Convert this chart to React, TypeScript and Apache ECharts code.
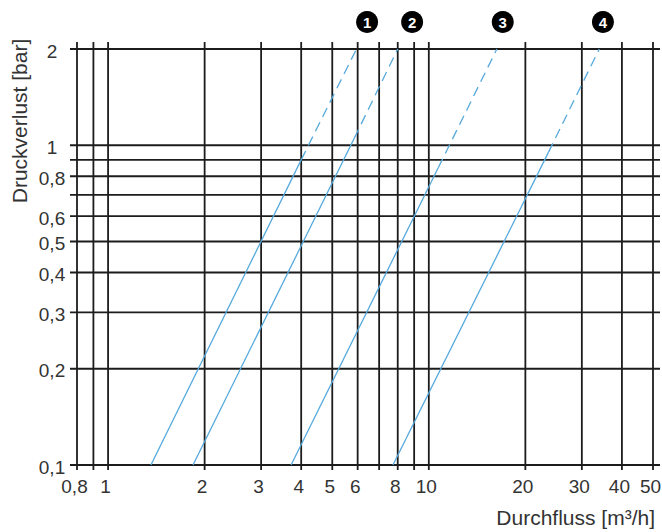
import React, { useEffect, useRef } from "react";
import * as echarts from "echarts";

// Axis ranges (log-log chart)
const X_MIN = 0.8;
const X_MAX = 50;
const Y_MIN = 0.1;
const Y_MAX = 2;

// Gridlines and their labels
const X_GRID = [0.8, 0.9, 1, 2, 3, 4, 5, 6, 7, 8, 9, 10, 20, 30, 40, 50];
const X_LABELS = ["0,8", "", "1", "2", "3", "4", "5", "6", "", "8", "", "10", "20", "30", "40", "50"];
const Y_GRID = [0.1, 0.2, 0.3, 0.4, 0.5, 0.6, 0.7, 0.8, 0.9, 1, 2];
const Y_LABELS = ["0,1", "0,2", "0,3", "0,4", "0,5", "0,6", "", "0,8", "", "1", "2"];

// Curves: solid part and dashed continuation [flow m³/h, pressure bar]
const CURVE_IDS = ["1", "2", "3", "4"];
const CURVE_SOLID = [
  [[1.36, 0.1], [4.0, 0.9]],
  [[1.84, 0.1], [5.85, 1.05]],
  [[3.72, 0.1], [10.7, 0.85]],
  [[7.73, 0.1], [23.6, 0.95]],
];
const CURVE_DASHED = [
  [[4.0, 0.9], [5.95, 2]],
  [[5.85, 1.05], [8.0, 2]],
  [[10.7, 0.85], [16.3, 2]],
  [[23.6, 0.95], [34.0, 2]],
];
// Badge positions (flow value above the top of the plot)
const BADGE_X = [6.42, 8.87, 17.0, 34.9];

const X_TITLE = "Durchfluss [m³/h]";
const Y_TITLE = "Druckverlust [bar]";

const GRID_COLOR = "#1c1c1c";
const CURVE_COLOR = "#55a9dc";
const TEXT_COLOR = "#333333";
const FONT = "Liberation Sans, Arial, Helvetica, sans-serif";

export default function App() {
  const ref = useRef<HTMLDivElement>(null);

  useEffect(() => {
    if (!ref.current) return;
    const chart = echarts.init(ref.current, null, { renderer: "svg" });

    const curveSeries: any[] = [];
    CURVE_IDS.forEach((id, i) => {
      curveSeries.push({
        type: "line",
        name: "solid-" + id,
        data: CURVE_SOLID[i],
        showSymbol: false,
        clip: false,
        z: 5,
        silent: true,
        lineStyle: { color: CURVE_COLOR, width: 1.3, type: "solid" },
      });
      curveSeries.push({
        type: "line",
        name: "dashed-" + id,
        data: CURVE_DASHED[i],
        showSymbol: false,
        clip: false,
        z: 5,
        silent: true,
        lineStyle: { color: CURVE_COLOR, width: 1.3, type: [10, 6] },
      });
    });

    const option: any = {
      animation: false,
      backgroundColor: "#ffffff",
      grid: { left: 77, right: 9, top: 49, bottom: 67, containLabel: false },
      xAxis: {
        type: "log",
        logBase: 10,
        min: X_MIN,
        max: X_MAX,
        axisLine: { show: false },
        axisTick: { show: false },
        axisLabel: { show: false },
        splitLine: { show: false },
      },
      yAxis: {
        type: "log",
        logBase: 10,
        min: Y_MIN,
        max: Y_MAX,
        axisLine: { show: false },
        axisTick: { show: false },
        axisLabel: { show: false },
        splitLine: { show: false },
      },
      graphic: [
        {
          type: "text",
          x: 19,
          y: 121,
          rotation: Math.PI / 2,
          style: {
            text: Y_TITLE,
            fill: TEXT_COLOR,
            fontSize: 21,
            fontFamily: FONT,
            align: "center",
            verticalAlign: "middle",
          },
        },
        {
          type: "text",
          x: 655,
          y: 517,
          style: {
            text: X_TITLE,
            fill: TEXT_COLOR,
            fontSize: 21,
            fontFamily: FONT,
            align: "right",
            verticalAlign: "middle",
          },
        },
      ],
      series: [
        {
          type: "custom",
          name: "xgrid",
          data: X_GRID.map((v) => [v, Y_MIN]),
          clip: false,
          silent: true,
          z: 1,
          renderItem: (params: any, api: any) => {
            const v = X_GRID[params.dataIndex];
            const p0 = api.coord([v, Y_MIN]);
            const p1 = api.coord([v, Y_MAX]);
            const children: any[] = [
              {
                type: "line",
                shape: { x1: p0[0], y1: p0[1] + 5, x2: p1[0], y2: p1[1] - 7 },
                style: { stroke: GRID_COLOR, lineWidth: 1.8 },
              },
            ];
            const label = X_LABELS[params.dataIndex];
            if (label) {
              children.push({
                type: "text",
                x: p0[0] - 2.5,
                y: p0[1] + 21,
                style: {
                  text: label,
                  fill: TEXT_COLOR,
                  fontSize: 19,
                  fontFamily: FONT,
                  align: "center",
                  verticalAlign: "middle",
                },
              });
            }
            return { type: "group", children };
          },
        },
        {
          type: "custom",
          name: "ygrid",
          data: Y_GRID.map((v) => [X_MIN, v]),
          clip: false,
          silent: true,
          z: 1,
          renderItem: (params: any, api: any) => {
            const v = Y_GRID[params.dataIndex];
            const p0 = api.coord([X_MIN, v]);
            const p1 = api.coord([X_MAX, v]);
            const children: any[] = [
              {
                type: "line",
                shape: { x1: p0[0] - 7, y1: p0[1], x2: p1[0] + 7, y2: p1[1] },
                style: { stroke: GRID_COLOR, lineWidth: 1.8 },
              },
            ];
            const label = Y_LABELS[params.dataIndex];
            if (label) {
              children.push({
                type: "text",
                x: p0[0] - 25,
                y: p0[1] + 2,
                style: {
                  text: label,
                  fill: TEXT_COLOR,
                  fontSize: 19,
                  fontFamily: FONT,
                  align: "center",
                  verticalAlign: "middle",
                },
              });
            }
            return { type: "group", children };
          },
        },
        ...curveSeries,
        {
          type: "scatter",
          name: "badges",
          data: BADGE_X.map((x) => [x, Y_MAX]),
          symbol: "circle",
          symbolSize: 22,
          symbolOffset: [0, -27],
          clip: false,
          silent: true,
          z: 6,
          itemStyle: { color: "#000000", opacity: 1 },
          label: {
            show: true,
            position: "inside",
            formatter: (p: any) => CURVE_IDS[p.dataIndex],
            color: "#ffffff",
            fontWeight: "bold",
            fontSize: 15,
            fontFamily: FONT,
          },
        },
      ],
    };

    chart.setOption(option);
    return () => chart.dispose();
  }, []);

  return (
    <div
      ref={ref}
      style={{ position: "fixed", left: 0, top: 0, width: 662, height: 532, background: "#fff" }}
    />
  );
}
